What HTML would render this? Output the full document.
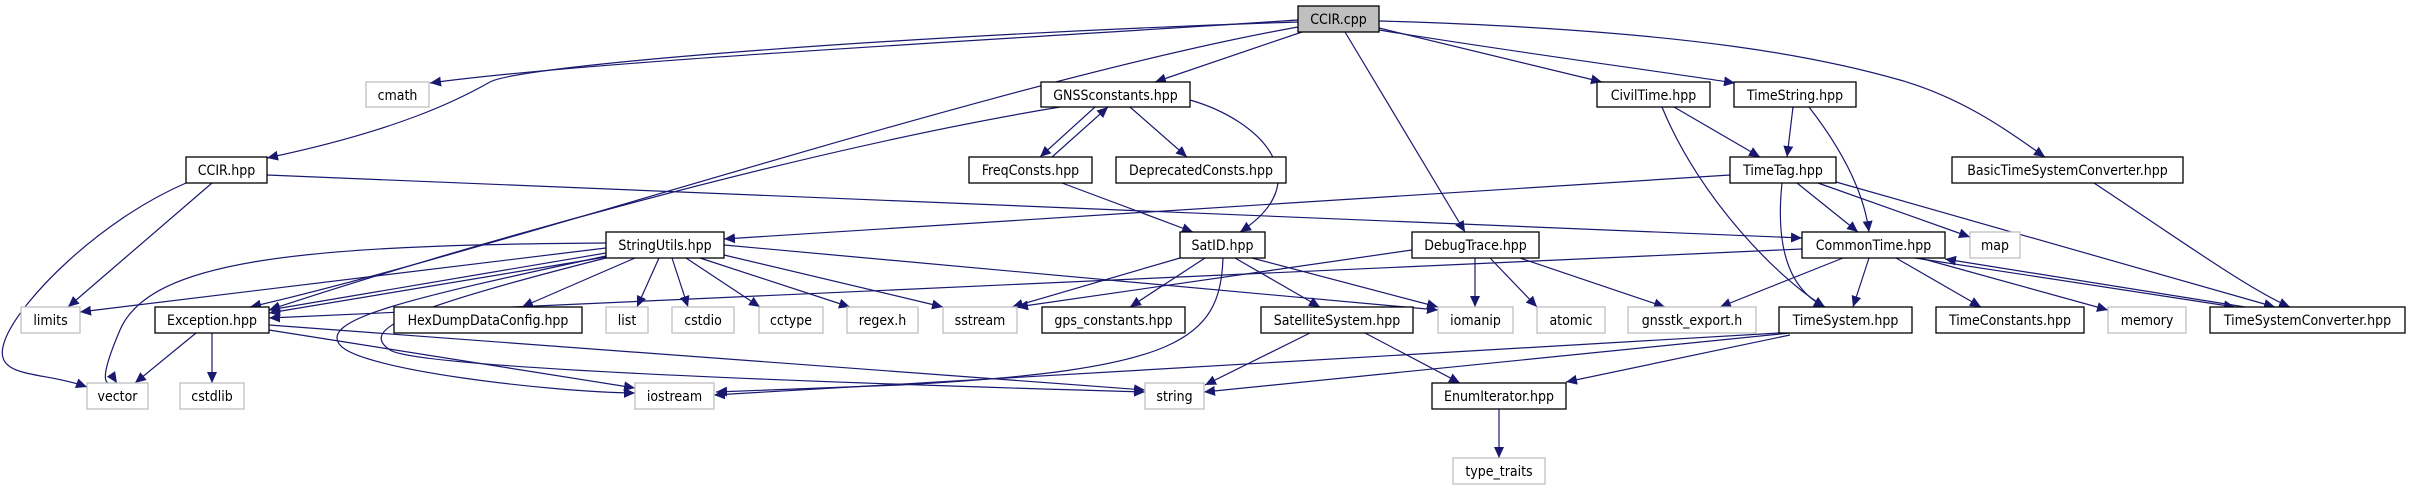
<!DOCTYPE html>
<html><head><meta charset="utf-8"><style>
html,body{margin:0;padding:0;background:#fff;width:2410px;height:485px;overflow:hidden}
svg{display:block}
text{font-family:"DejaVu Sans Condensed","DejaVu Sans","Liberation Sans",sans-serif;font-size:14px;fill:#000}
</style></head><body>
<svg width="2410" height="485" viewBox="0 0 2410 485" xmlns="http://www.w3.org/2000/svg">
<defs>
<marker id="a" markerUnits="userSpaceOnUse" markerWidth="12" markerHeight="10" refX="11" refY="5" orient="auto">
<path d="M0,0 L11,5 L0,10 z" fill="#191970"/>
</marker>
</defs>
<g fill="none" stroke="#191970" stroke-width="1.2" marker-end="url(#a)">
<!-- CCIR.cpp -->
<path d="M1298,20 C1000,40 600,60 430,83"/>
<path d="M1298,22 C900,35 520,65 490,82 S400,130 267,158"/>
<path d="M1302,32 L1155,82"/>
<path d="M1298,27 C1000,80 500,250 250,307"/>
<path d="M1345,32 L1465,232"/>
<path d="M1379,28 L1602,82"/>
<path d="M1379,30 C1500,50 1650,70 1735,83"/>
<path d="M1379,21 C1700,30 1830,60 1900,80 S2020,140 2045,157"/>
<!-- CCIR.hpp -->
<path d="M212,183 L68,307"/>
<path d="M186,183 C100,220 20,300 5,340 S40,370 87,387"/>
<path d="M267,175 L1802,238"/>
<!-- GNSS -->
<path d="M1095,107 L1040,157"/>
<path d="M1052,157 L1108,107"/>
<path d="M1130,107 L1187,157"/>
<path d="M1190,100 C1260,120 1320,180 1240,232"/>
<path d="M1060,107 C800,150 450,250 269,310"/>
<path d="M1062,183 L1193,232"/>
<!-- SatID -->
<path d="M1180,258 L1012,307"/>
<path d="M1205,258 L1130,307"/>
<path d="M1235,258 L1320,307"/>
<path d="M1252,258 L1438,307"/>
<path d="M1223,258 C1220,340 1180,370 900,385 L716,392"/>
<path d="M1310,333 L1205,385"/>
<path d="M1365,333 L1460,383"/>
<path d="M1499,409 L1499,458"/>
<!-- DebugTrace -->
<path d="M1412,250 L1017,307"/>
<path d="M1475,258 L1475,307"/>
<path d="M1490,258 L1537,307"/>
<path d="M1520,258 L1665,307"/>
<!-- StringUtils -->
<path d="M606,248 L80,312"/>
<path d="M606,243 C300,245 150,260 120,330 S115,380 117,383"/>
<path d="M606,253 L269,310"/>
<path d="M606,257 L269,313"/>
<path d="M635,258 L522,307"/>
<path d="M659,258 L637,307"/>
<path d="M672,258 L688,307"/>
<path d="M686,258 L760,307"/>
<path d="M700,258 L850,307"/>
<path d="M724,255 L943,307"/>
<path d="M724,245 L1438,310"/>
<path d="M606,256 C400,300 320,320 340,345 S550,392 635,393"/>
<path d="M606,258 C400,310 360,330 390,350 S900,385 1145,392"/>
<!-- Exception -->
<path d="M196,333 L135,383"/>
<path d="M212,333 L212,383"/>
<path d="M269,330 L635,388"/>
<path d="M269,325 L1145,390"/>
<!-- CivilTime / TimeString -->
<path d="M1674,107 L1760,157"/>
<path d="M1662,107 C1700,200 1780,280 1825,307"/>
<path d="M1793,107 L1787,157"/>
<path d="M1809,107 C1850,160 1865,200 1869,232"/>
<!-- TimeTag -->
<path d="M1730,175 L724,239"/>
<path d="M1797,183 L1858,232"/>
<path d="M1782,183 C1775,250 1790,290 1825,307"/>
<path d="M1818,183 L1970,237"/>
<path d="M1836,182 L2275,307"/>
<!-- CommonTime -->
<path d="M1802,249 L269,318"/>
<path d="M1843,258 L1720,307"/>
<path d="M1869,258 L1853,307"/>
<path d="M1896,258 L1981,307"/>
<path d="M1920,258 L2108,310"/>
<path d="M1915,258 L2235,307"/>
<path d="M2245,307 L1945,259"/>
<!-- TimeSystem -->
<path d="M1779,333 L714,395"/>
<path d="M1790,333 L1204,392"/>
<path d="M1790,335 L1566,382"/>
<path d="M2094,183 C2180,240 2250,290 2290,307"/>
</g>
<g stroke-width="1.3">
<!-- filled box -->
<rect x="1298" y="6" width="81" height="26" fill="#bfbfbf" stroke="#000"/>
<!-- black-bordered -->
<g fill="#fff" stroke="#000">
<rect x="186" y="157" width="81" height="26"/>
<rect x="1041" y="82" width="149" height="25"/>
<rect x="969" y="157" width="123" height="26"/>
<rect x="1116" y="157" width="170" height="26"/>
<rect x="606" y="232" width="118" height="26"/>
<rect x="1180" y="232" width="85" height="26"/>
<rect x="1412" y="232" width="127" height="26"/>
<rect x="155" y="307" width="114" height="26"/>
<rect x="394" y="307" width="188" height="26"/>
<rect x="1042" y="307" width="143" height="26"/>
<rect x="1261" y="307" width="152" height="26"/>
<rect x="1432" y="383" width="134" height="26"/>
<rect x="1597" y="82" width="113" height="25"/>
<rect x="1734" y="82" width="122" height="25"/>
<rect x="1730" y="157" width="106" height="26"/>
<rect x="1952" y="157" width="231" height="26"/>
<rect x="1802" y="232" width="143" height="26"/>
<rect x="1779" y="307" width="133" height="26"/>
<rect x="1936" y="307" width="148" height="26"/>
<rect x="2210" y="307" width="195" height="26"/>
</g>
<g fill="#fff" stroke="#bfbfbf">
<rect x="366" y="82" width="63" height="25"/>
<rect x="21" y="307" width="59" height="26"/>
<rect x="606" y="307" width="42" height="26"/>
<rect x="672" y="307" width="62" height="26"/>
<rect x="759" y="307" width="64" height="26"/>
<rect x="847" y="307" width="71" height="26"/>
<rect x="943" y="307" width="74" height="26"/>
<rect x="1438" y="307" width="75" height="26"/>
<rect x="1537" y="307" width="68" height="26"/>
<rect x="1628" y="307" width="128" height="26"/>
<rect x="1970" y="232" width="50" height="26"/>
<rect x="2108" y="307" width="78" height="26"/>
<rect x="87" y="383" width="61" height="26"/>
<rect x="180" y="383" width="64" height="26"/>
<rect x="635" y="383" width="79" height="26"/>
<rect x="1145" y="383" width="59" height="26"/>
<rect x="1453" y="458" width="92" height="26"/>
</g>
</g>
<g text-anchor="middle">
<text x="1338.5" y="24">CCIR.cpp</text>
<text x="226.5" y="175">CCIR.hpp</text>
<text x="1115.5" y="100">GNSSconstants.hpp</text>
<text x="1030.5" y="175">FreqConsts.hpp</text>
<text x="1201" y="175">DeprecatedConsts.hpp</text>
<text x="665" y="250">StringUtils.hpp</text>
<text x="1222.5" y="250">SatID.hpp</text>
<text x="1475.5" y="250">DebugTrace.hpp</text>
<text x="212" y="325">Exception.hpp</text>
<text x="488" y="325">HexDumpDataConfig.hpp</text>
<text x="1113.5" y="325">gps_constants.hpp</text>
<text x="1337" y="325">SatelliteSystem.hpp</text>
<text x="1499" y="401">EnumIterator.hpp</text>
<text x="1653.5" y="100">CivilTime.hpp</text>
<text x="1795" y="100">TimeString.hpp</text>
<text x="1783" y="175">TimeTag.hpp</text>
<text x="2067.5" y="175">BasicTimeSystemConverter.hpp</text>
<text x="1873.5" y="250">CommonTime.hpp</text>
<text x="1845.5" y="325">TimeSystem.hpp</text>
<text x="2010" y="325">TimeConstants.hpp</text>
<text x="2307.5" y="325">TimeSystemConverter.hpp</text>
<text x="397.5" y="100">cmath</text>
<text x="50.5" y="325">limits</text>
<text x="627" y="325">list</text>
<text x="703" y="325">cstdio</text>
<text x="791" y="325">cctype</text>
<text x="882.5" y="325">regex.h</text>
<text x="980" y="325">sstream</text>
<text x="1475.5" y="325">iomanip</text>
<text x="1571" y="325">atomic</text>
<text x="1692" y="325">gnsstk_export.h</text>
<text x="1995" y="250">map</text>
<text x="2147" y="325">memory</text>
<text x="117.5" y="401">vector</text>
<text x="212" y="401">cstdlib</text>
<text x="674.5" y="401">iostream</text>
<text x="1174.5" y="401">string</text>
<text x="1499" y="476">type_traits</text>
</g>
</svg>
</body></html>
